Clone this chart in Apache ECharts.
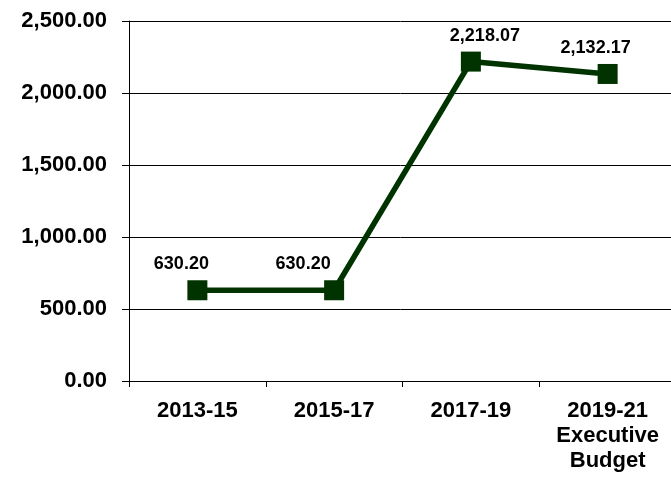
<!DOCTYPE html>
<html>
<head>
<meta charset="utf-8">
<script src="https://cdn.jsdelivr.net/npm/echarts@6/dist/echarts.min.js"></script>
<style>html,body{margin:0;padding:0;background:#fff;overflow:hidden;}#c{width:671px;height:478px;}</style>
</head>
<body>
<div id="c"></div>
<script>
var categories = ['2013-15', '2015-17', '2017-19', '2019-21\nExecutive\nBudget'];
var values = [630.20, 630.20, 2218.07, 2132.17];
var labelOffsets = [[-16, 0], [-31, 0], [14, 0], [-12, 0]];
var yTicks = {min: 0, max: 2500, interval: 500};

function fmt(v) {
  return v.toLocaleString('en-US', {minimumFractionDigits: 2, maximumFractionDigits: 2});
}

var chart = echarts.init(document.getElementById('c'), null, {renderer: 'canvas'});
chart.setOption({
  animation: false,
  backgroundColor: '#ffffff',
  grid: {left: 129, width: 547, top: 21, height: 360, containLabel: false, outerBoundsMode: 'none'},
  xAxis: {
    type: 'category',
    data: categories,
    boundaryGap: true,
    axisLine: {show: true, lineStyle: {color: '#000', width: 1}},
    axisTick: {show: true, alignWithLabel: false, length: 6, lineStyle: {color: '#000'}},
    axisLabel: {
      color: '#000', fontFamily: 'Liberation Sans, Arial, sans-serif', fontWeight: 'bold',
      fontSize: 22, lineHeight: 25, margin: 17, interval: 0
    },
    splitLine: {show: false}
  },
  yAxis: {
    type: 'value',
    min: yTicks.min, max: yTicks.max, interval: yTicks.interval,
    axisLine: {show: true, lineStyle: {color: '#000', width: 1}},
    axisTick: {show: true, length: 7, lineStyle: {color: '#000'}},
    axisLabel: {
      color: '#000', fontFamily: 'Liberation Sans, Arial, sans-serif', fontWeight: 'bold',
      fontSize: 22, margin: 22, formatter: function (v) { return fmt(v); }
    },
    splitLine: {show: true, lineStyle: {color: '#000', width: 1}}
  },
  series: [{
    type: 'line',
    data: values.map(function (v, i) {
      return {value: v, label: {offset: labelOffsets[i]}};
    }),
    symbol: 'rect',
    symbolSize: 20,
    lineStyle: {color: '#003300', width: 5.5},
    itemStyle: {color: '#003300'},
    label: {
      show: true, position: 'top', distance: 7,
      color: '#000', fontFamily: 'Liberation Sans, Arial, sans-serif', fontWeight: 'bold', fontSize: 18,
      formatter: function (p) { return fmt(p.value); }
    }
  }]
});
</script>
</body>
</html>
